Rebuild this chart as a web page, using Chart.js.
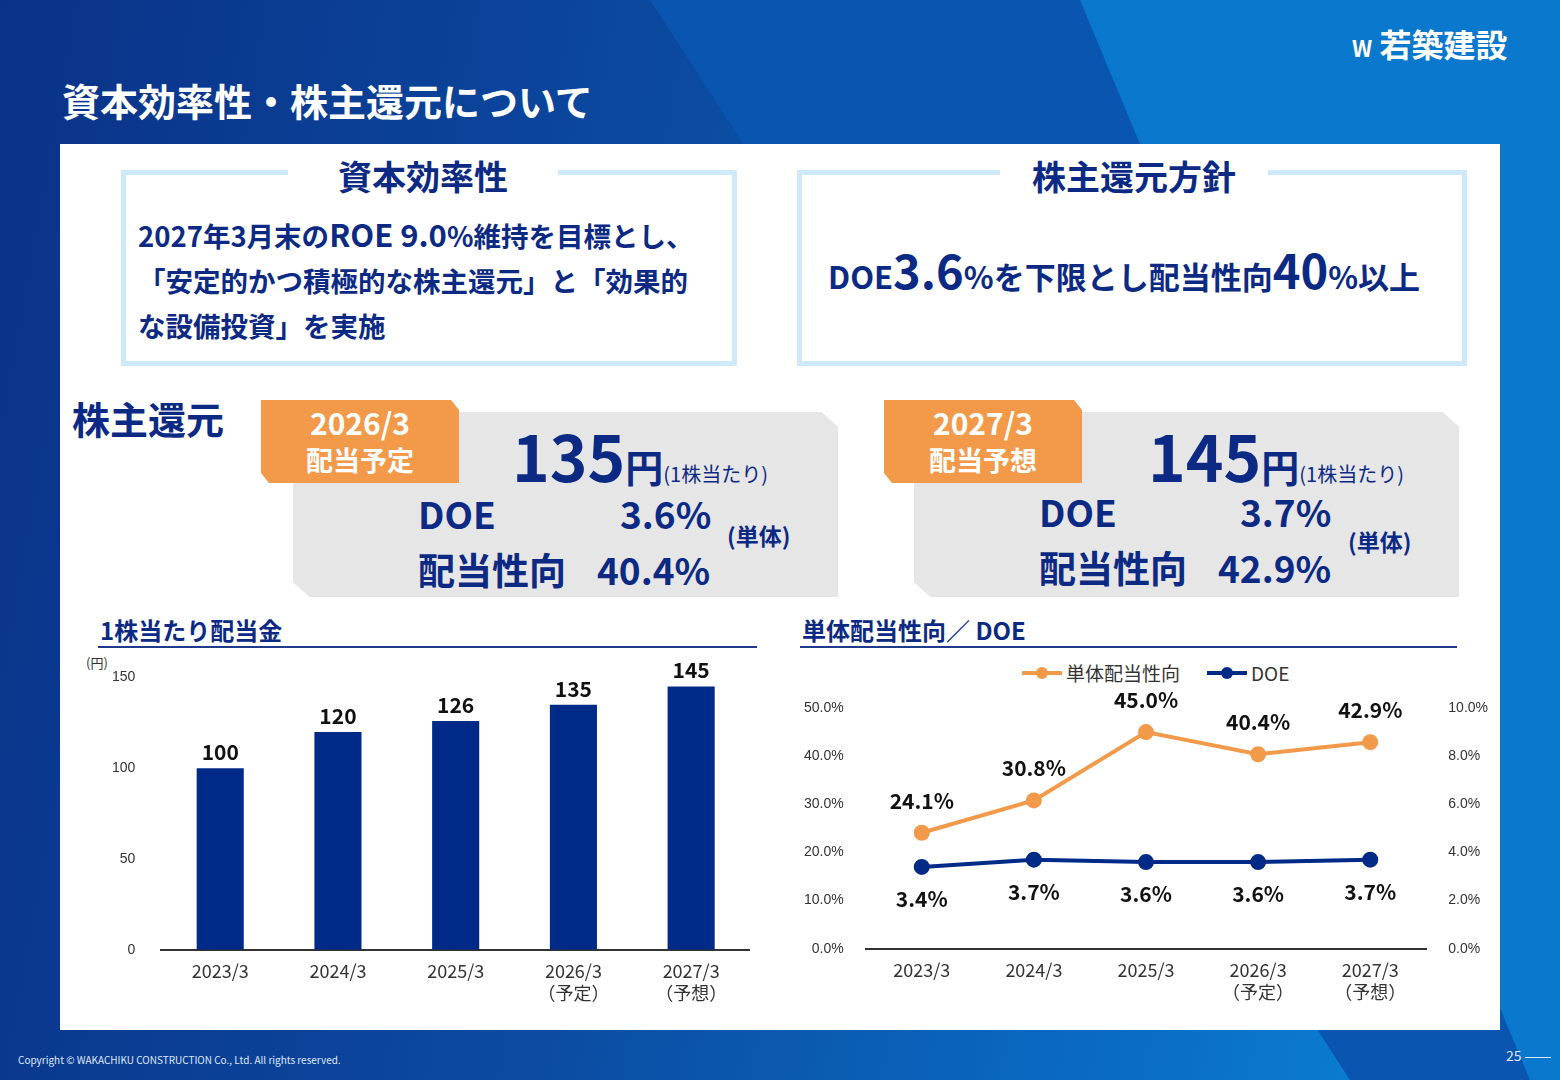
<!DOCTYPE html>
<html><head><meta charset="utf-8">
<script src="https://cdn.jsdelivr.net/npm/chart.js@4"></script>
<style>
body{margin:0;width:1560px;height:1080px;overflow:hidden;font-family:"Noto Sans CJK JP","Noto Sans",sans-serif;}
#bg{position:absolute;left:0;top:0;width:1560px;height:1080px;background:linear-gradient(100deg,#0a3288 0%,#0b4aa0 40%,#0a6cc4 75%,#0a8ad8 100%);overflow:hidden}
.sh{position:absolute}
.a{position:absolute}
#panel{position:absolute;left:60px;top:144px;width:1440px;height:886px;background:#fff}
.box{position:absolute;border:5px solid #cde9fa;box-sizing:border-box}
.bt{position:absolute;background:#fff;color:#0c2a84;font-weight:700;font-size:34px;text-align:center;line-height:40px}
.navy{color:#0c2a84;font-weight:700}
.grey{position:absolute;background:#e6e6e6;clip-path:polygon(0 0,97% 0,100% 8%,100% 100%,3% 100%,0 92%)}
.org{position:absolute;background:#f39a4a;color:#fff;font-weight:700;text-align:center;clip-path:polygon(0 0,96% 0,100% 12%,100% 100%,4% 100%,0 88%);font-size:30px;line-height:36px;padding-top:4px;box-sizing:border-box}
.lg{position:absolute;height:4px}
.dot{position:absolute;width:12px;height:12px;border-radius:6px}
</style></head><body>
<div id="bg">
<div class="sh" style="left:650px;top:0;width:1000px;height:1080px;background:#0a55b0;clip-path:polygon(0 0,45% 0,100% 60%,100% 100%,70% 100%)"></div>
<div class="sh" style="left:1080px;top:0;width:500px;height:1080px;background:#0a78cc;clip-path:polygon(0 0,100% 0,100% 100%,90% 100%)"></div>
</div>
<div class="a" style="left:62px;top:72px;color:#fff;font-size:38px;font-weight:700">資本効率性・株主還元について</div>
<div class="a" style="left:1352px;top:20px;color:#fff;font-size:32px;font-weight:700"><span style="font-size:22px">W</span> 若築建設</div>
<div class="a" style="left:18px;top:1052px;color:#dfe8f5;font-size:10px">Copyright © WAKACHIKU CONSTRUCTION Co., Ltd. All rights reserved.</div>
<div class="a" style="left:1506px;top:1045px;color:#dfe8f5;font-size:14px">25 <span style="display:inline-block;width:26px;border-top:1px solid #dfe8f5;vertical-align:middle"></span></div>
<div id="panel"></div>

<div class="box" style="left:121px;top:170px;width:616px;height:196px"></div>
<div class="bt" style="left:288px;top:156px;width:270px">資本効率性</div>
<div class="a navy" style="left:138px;top:211px;font-size:27.5px;line-height:45px">2027年3月末の<span style="font-size:31px">ROE 9.0</span>%維持を目標とし、<br>「安定的かつ積極的な株主還元」と「効果的<br>な設備投資」を実施</div>

<div class="box" style="left:797px;top:170px;width:670px;height:196px"></div>
<div class="bt" style="left:1000px;top:156px;width:268px">株主還元方針</div>
<div class="a navy" style="left:828px;top:234px;font-size:31px">DOE<span style="font-size:47px">3.6</span>%を下限とし配当性向<span style="font-size:47px">40</span>%以上</div>

<div class="a navy" style="left:72px;top:390px;font-size:38px">株主還元</div>

<div class="grey" style="left:293px;top:412px;width:545px;height:185px"></div>
<div class="org" style="left:261px;top:400px;width:198px;height:83px">2026/3<br><span style="font-size:27px">配当予定</span></div>
<div class="a navy" style="left:512px;top:408px;font-size:64px">135<span style="font-size:38px">円</span><span style="font-size:20px;font-weight:400">(1株当たり)</span></div>
<div class="a navy" style="left:418px;top:486px;font-size:37px">DOE</div>
<div class="a navy" style="left:620px;top:486px;font-size:37px">3.6%</div>
<div class="a navy" style="left:418px;top:542px;font-size:37px">配当性向</div>
<div class="a navy" style="left:597px;top:542px;font-size:37px">40.4%</div>
<div class="a navy" style="left:727px;top:518px;font-size:23px">(単体)</div>

<div class="grey" style="left:914px;top:412px;width:545px;height:185px"></div>
<div class="org" style="left:884px;top:400px;width:198px;height:83px">2027/3<br><span style="font-size:27px">配当予想</span></div>
<div class="a navy" style="left:1148px;top:408px;font-size:64px">145<span style="font-size:38px">円</span><span style="font-size:20px;font-weight:400">(1株当たり)</span></div>
<div class="a navy" style="left:1039px;top:484px;font-size:37px">DOE</div>
<div class="a navy" style="left:1240px;top:484px;font-size:37px">3.7%</div>
<div class="a navy" style="left:1039px;top:540px;font-size:37px">配当性向</div>
<div class="a navy" style="left:1218px;top:540px;font-size:37px">42.9%</div>
<div class="a navy" style="left:1348px;top:524px;font-size:23px">(単体)</div>

<div class="a navy" style="left:100px;top:612px;font-size:24px">1株当たり配当金</div>
<div class="a" style="left:98px;top:646px;width:659px;border-top:2px solid #1f3a8a"></div>
<div class="a navy" style="left:802px;top:612px;font-size:24px">単体配当性向／ DOE</div>
<div class="a" style="left:800px;top:646px;width:657px;border-top:2px solid #1f3a8a"></div>
<div class="a" style="left:86px;top:653px;font-size:13px;color:#333">(円)</div>

<div class="lg" style="left:1022px;top:671px;width:40px;background:#f39a4a"></div><div class="dot" style="left:1036px;top:667px;background:#f39a4a"></div>
<div class="a" style="left:1066px;top:659px;font-size:19px;color:#333">単体配当性向</div>
<div class="lg" style="left:1207px;top:671px;width:40px;background:#002a88"></div><div class="dot" style="left:1221px;top:667px;background:#002a88"></div>
<div class="a" style="left:1251px;top:659px;font-size:19px;color:#333">DOE</div>

<div class="a" style="left:94px;top:651px;width:656px;height:356px"><canvas id="c1"></canvas></div>
<div class="a" style="left:790px;top:656px;width:712px;height:350px"><canvas id="c2"></canvas></div>

<script>
const categories=[["2023/3"],["2024/3"],["2025/3"],["2026/3","（予定）"],["2027/3","（予想）"]];
const dividends=[100,120,126,135,145];
const payout=[24.1,30.8,45.0,40.4,42.9];
const doe=[3.4,3.7,3.6,3.6,3.7];
const NAVY='#002a88',ORG='#f39a4a';
const tickFont={family:'"Noto Sans CJK JP"',size:18};
const labelPlugin={id:'lbl',afterDatasetsDraw(ch){
 const c=ch.ctx;c.save();c.font='bold 21px "Noto Sans CJK JP"';c.fillStyle='#111';c.textAlign='center';
 ch.data.datasets.forEach((ds,i)=>{const m=ch.getDatasetMeta(i);
  m.data.forEach((el,j)=>{const v=ds.data[j];let t,y;
   if(ch.config.type==='bar'){t=String(v);y=el.y-8;}
   else if(ds.yAxisID==='y'){t=v.toFixed(1)+'%';y=el.y-24;}
   else{t=v.toFixed(1)+'%';y=el.y+40;}
   c.fillText(t,el.x,y);});});c.restore();}};
new Chart(document.getElementById('c1'),{type:'bar',
 data:{labels:categories,datasets:[{data:dividends,backgroundColor:NAVY,barPercentage:0.4,categoryPercentage:1}]},
 options:{responsive:true,maintainAspectRatio:false,animation:false,
  layout:{padding:{top:12}},
  plugins:{legend:{display:false},tooltip:{enabled:false}},
  scales:{y:{min:0,max:150,ticks:{stepSize:50,font:{size:14},color:'#333',padding:18},grid:{display:false},border:{display:false}},
   x:{grid:{display:false},border:{color:'#333',width:2},ticks:{font:tickFont,color:'#333'}}}},
 plugins:[labelPlugin]});
new Chart(document.getElementById('c2'),{type:'line',
 data:{labels:categories,datasets:[
  {label:'単体配当性向',data:payout,borderColor:ORG,backgroundColor:ORG,borderWidth:4,pointRadius:6,yAxisID:'y'},
  {label:'DOE',data:doe,borderColor:NAVY,backgroundColor:NAVY,borderWidth:4,pointRadius:6,yAxisID:'y2'}]},
 options:{responsive:true,maintainAspectRatio:false,animation:false,
  layout:{padding:{top:52}},
  plugins:{legend:{display:false},tooltip:{enabled:false}},
  scales:{y:{position:'left',min:0,max:50,ticks:{stepSize:10,callback:v=>v.toFixed(1)+'%',font:{size:14},color:'#333',padding:14},grid:{display:false},border:{display:false}},
   y2:{position:'right',min:0,max:10,ticks:{stepSize:2,callback:v=>v.toFixed(1)+'%',font:{size:14},color:'#333',padding:14},grid:{display:false},border:{display:false}},
   x:{offset:true,grid:{display:false},border:{color:'#333',width:2},ticks:{font:tickFont,color:'#333'}}}},
 plugins:[labelPlugin]});
</script>
</body></html>
